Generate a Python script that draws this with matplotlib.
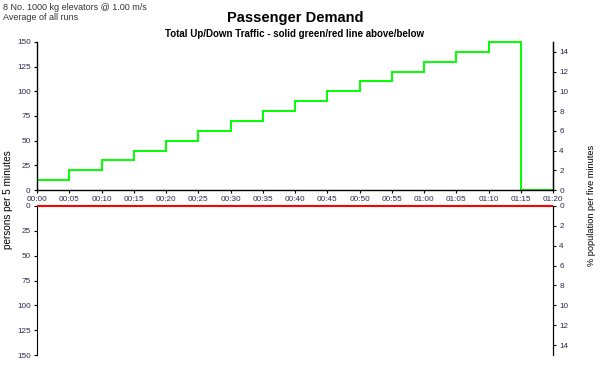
import matplotlib
matplotlib.use("Agg")
import matplotlib.pyplot as plt
import numpy as np

plt.rcParams['font.family'] = ['Liberation Sans', 'DejaVu Sans']

# Data
time_edges_min = [0, 5, 10, 15, 20, 25, 30, 35, 40, 45, 50, 55, 60, 65, 70, 75, 80]
up_persons = [10, 20, 30, 40, 50, 60, 70, 80, 90, 100, 110, 120, 130, 140, 150, 0]
down_persons = [0, 0, 0, 0, 0, 0, 0, 0, 0, 0, 0, 0, 0, 0, 0, 0]
x_tick_labels = ["00:00", "00:05", "00:10", "00:15", "00:20", "00:25", "00:30", "00:35",
                 "00:40", "00:45", "00:50", "00:55", "01:00", "01:05", "01:10", "01:15", "01:20"]
left_ticks = [0, 25, 50, 75, 100, 125, 150]
right_ticks = [0, 2, 4, 6, 8, 10, 12, 14]

tick_color = '#2a2a4a'
fs = 5.9

fig = plt.figure(figsize=(6.02, 3.71), dpi=100)
W, H = 602, 371
def rect(x0, y0, x1, y1):
    return [x0 / W, 1 - y1 / H, (x1 - x0) / W, (y1 - y0) / H]

ax1 = fig.add_axes(rect(37, 42, 553, 190))
ax2 = fig.add_axes(rect(37, 206, 553, 355))

# Top axes
ax1.stairs(up_persons, time_edges_min, color='#00ff00', linewidth=1.4, baseline=None, clip_on=False)
ax1.set_xlim(0, 80)
ax1.set_ylim(0, 150)
ax1.set_xticks(time_edges_min)
ax1.set_xticklabels(x_tick_labels)
ax1.set_yticks(left_ticks)
ax1.spines['top'].set_visible(False)
for s in ['left', 'bottom', 'right']:
    ax1.spines[s].set_linewidth(1.0)
ax1.tick_params(axis='both', labelsize=fs, labelcolor=tick_color, length=2.5, width=0.8, pad=2)
ax1r = ax1.twinx()
ax1r.set_ylim(0, 15)
ax1r.set_yticks(right_ticks)
ax1r.spines['top'].set_visible(False)
ax1r.spines['left'].set_visible(False)
ax1r.spines['bottom'].set_visible(False)
ax1r.tick_params(axis='y', labelsize=fs, labelcolor=tick_color, length=2.5, width=0.8, pad=2)

# Bottom axes
ax2.stairs(down_persons, time_edges_min, color='#ff0000', linewidth=1.5, baseline=None, clip_on=False, zorder=5)
ax2.set_xlim(0, 80)
ax2.set_ylim(150, 0)
ax2.set_yticks(left_ticks)
ax2.set_xticks([])
for s in ['top', 'bottom']:
    ax2.spines[s].set_visible(False)
ax2.tick_params(axis='y', labelsize=fs, labelcolor=tick_color, length=2.5, width=0.8, pad=2)
ax2r = ax2.twinx()
ax2r.set_ylim(15, 0)
ax2r.set_yticks(right_ticks)
for s in ['top', 'bottom', 'left']:
    ax2r.spines[s].set_visible(False)
ax2r.tick_params(axis='y', labelsize=fs, labelcolor=tick_color, length=2.5, width=0.8, pad=2)

# Texts
fig.text(3 / W, 1 - 7 / H, "8 No. 1000 kg elevators @ 1.00 m/s", fontsize=6.5, color='#333333', va='center', ha='left')
fig.text(3 / W, 1 - 17 / H, "Average of all runs", fontsize=6.5, color='#333333', va='center', ha='left')
fig.text(295 / W, 1 - 18 / H, "Passenger Demand", fontsize=10.5, fontweight='bold', ha='center', va='center')
fig.text(295 / W, 1 - 34 / H, "Total Up/Down Traffic - solid green/red line above/below", fontsize=7,
         fontweight='bold', ha='center', va='center')
fig.text(8 / W, 1 - 200 / H, "persons per 5 minutes", fontsize=7.2, rotation=90, ha='center', va='center')
fig.text(591 / W, 1 - 205 / H, "% population per five minutes", fontsize=6.6, rotation=90, ha='center', va='center')

fig.savefig("out.png", dpi=100)
